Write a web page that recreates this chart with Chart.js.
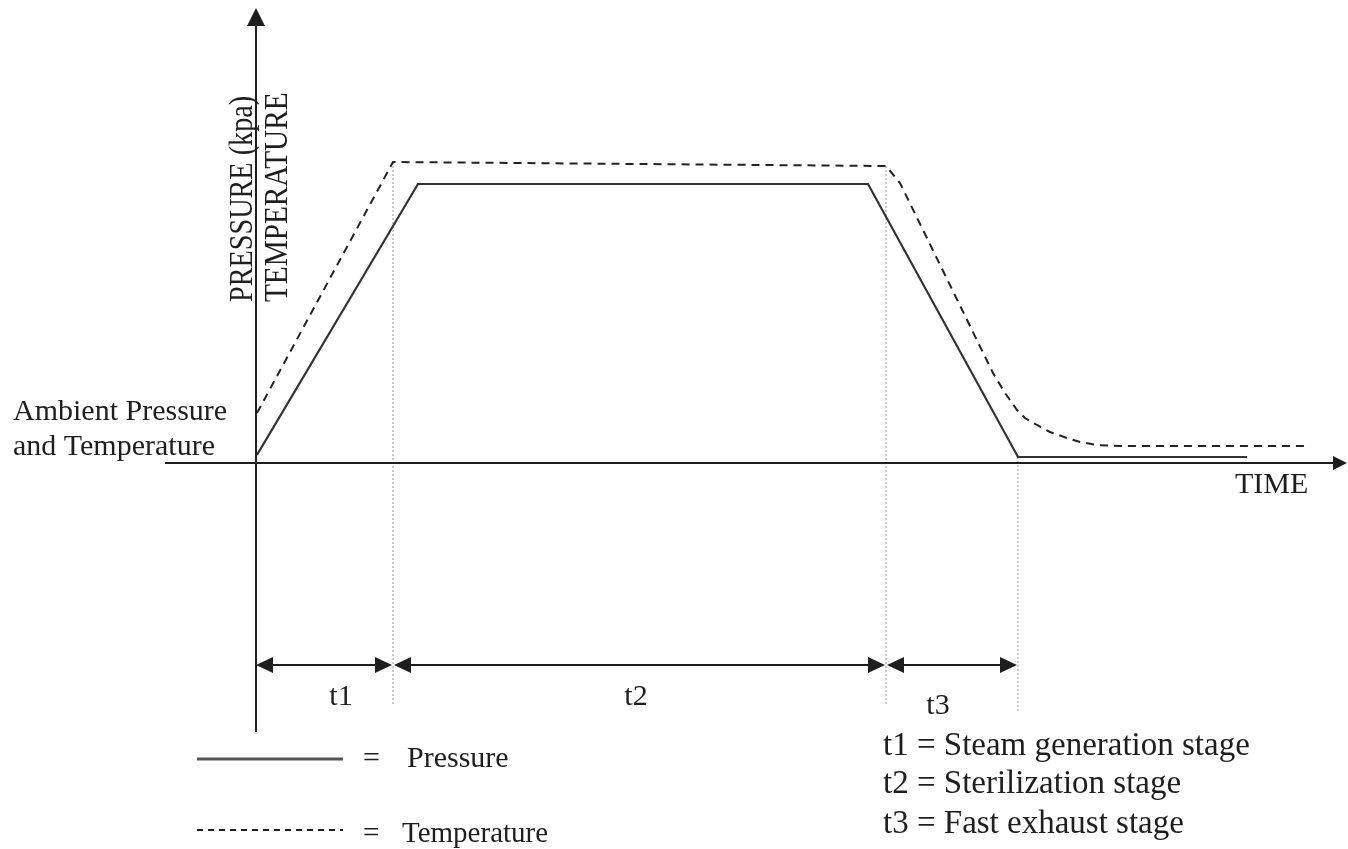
<!DOCTYPE html>
<html>
<head>
<meta charset="utf-8">
<script src="https://cdn.jsdelivr.net/npm/chart.js"></script>
<style>
  html, body { margin: 0; padding: 0; background: #fff; }
  #wrap { width: 1348px; height: 849px; position: relative; }
</style>
</head>
<body>
<div id="wrap"><canvas id="myChart"></canvas></div>
<script>
// dados (unidades arbitrarias: tempo / nivel)
var pressureTime = [0, 16.1, 61.1, 76.1, 99.0];
var pressureValue = [0.8, 27.9, 27.9, 0.6, 0.6];

var tempTime = [0, 13.6, 62.9, 64.3, 73.6, 74.8, 76.0, 76.8, 78.0, 79.3, 81.0, 82.3, 84.0, 86.3, 105.3];
var tempValue = [5.0, 30.1, 29.7, 28.0, 9.0, 7.0, 5.3, 4.5, 3.8, 3.1, 2.5, 2.1, 1.8, 1.7, 1.7];

// limites das etapas
var stageEdges = [0, 13.6, 62.9, 76.1];
var stageNames = ['t1', 't2', 't3'];
var stageText = [
    't1 = Steam generation stage',
    't2 = Sterilization stage',
    't3 = Fast exhaust stage'
];

function toPoints(xs, ys) {
    return xs.map(function (x, i) { return { x: x, y: ys[i] }; });
}

var INK = '#1e1e1e';
var SERIF = '"Liberation Serif", "DejaVu Serif", serif';

function tri(ctx, x, y, dir, len, half) {
    ctx.beginPath();
    ctx.moveTo(x, y);
    ctx.lineTo(x - dir * len, y - half);
    ctx.lineTo(x - dir * len, y + half);
    ctx.closePath();
    ctx.fill();
}

var diagram = {
    id: 'diagram',
    beforeDatasetsDraw: function (chart) {
        var ctx = chart.ctx, xs = chart.scales.x, ys = chart.scales.y;
        var X = function (v) { return xs.getPixelForValue(v); };
        var Y = function (v) { return ys.getPixelForValue(v); };
        ctx.save();
        // linhas pontilhadas das etapas
        ctx.strokeStyle = '#9a9a9a';
        ctx.lineWidth = 1;
        ctx.setLineDash([2, 2]);
        var tops = [Y(30.1), Y(29.7), Y(0.6)];
        var bottoms = [706, 706, 712];
        for (var i = 1; i < stageEdges.length; i++) {
            ctx.beginPath();
            ctx.moveTo(X(stageEdges[i]), tops[i - 1]);
            ctx.lineTo(X(stageEdges[i]), bottoms[i - 1]);
            ctx.stroke();
        }
        ctx.setLineDash([]);
        // eixos
        ctx.strokeStyle = INK;
        ctx.fillStyle = INK;
        ctx.lineWidth = 2;
        var x0 = X(0), y0 = Y(0);
        ctx.beginPath();
        ctx.moveTo(165, y0);
        ctx.lineTo(1336, y0);
        ctx.stroke();
        tri(ctx, 1347, y0, 1, 14, 7);
        ctx.beginPath();
        ctx.moveTo(x0 - 1, 732);
        ctx.lineTo(x0 - 1, 22);
        ctx.stroke();
        ctx.beginPath();
        ctx.moveTo(x0 - 1, 8);
        ctx.lineTo(x0 - 10, 26);
        ctx.lineTo(x0 + 8, 26);
        ctx.closePath();
        ctx.fill();
        ctx.restore();
    },
    afterDraw: function (chart) {
        var ctx = chart.ctx, xs = chart.scales.x;
        var X = function (v) { return xs.getPixelForValue(v); };
        ctx.save();
        ctx.fillStyle = INK;
        ctx.strokeStyle = INK;

        // setas das etapas
        var ay = 665;
        ctx.lineWidth = 2;
        for (var i = 0; i < stageNames.length; i++) {
            var a = X(stageEdges[i]) + 1, b = X(stageEdges[i + 1]) - 1;
            if (i == 0) a = X(0) - 1;
            ctx.beginPath();
            ctx.moveTo(a + 10, ay);
            ctx.lineTo(b - 10, ay);
            ctx.stroke();
            tri(ctx, a, ay, -1, 17, 8);
            tri(ctx, b, ay, 1, 17, 8);
        }
        var labX = [341, 636, 938];
        var labY = [705, 705, 714];
        ctx.font = '30px ' + SERIF;
        ctx.textAlign = 'center';
        ctx.textBaseline = 'alphabetic';
        for (var j = 0; j < stageNames.length; j++) {
            ctx.fillText(stageNames[j], labX[j], labY[j]);
        }

        // textos
        ctx.textAlign = 'left';
        ctx.font = '30px ' + SERIF;
        ctx.fillText('Ambient Pressure', 13, 420);
        ctx.fillText('and Temperature', 13, 455);
        ctx.fillText('TIME', 1235, 493);

        // titulos verticais
        ctx.font = '34px ' + SERIF;
        ctx.save();
        ctx.translate(252, 302);
        ctx.rotate(-Math.PI / 2);
        ctx.scale(0.83, 1);
        ctx.fillText('PRESSURE (kpa)', 0, 0);
        ctx.restore();
        ctx.save();
        ctx.translate(287, 302);
        ctx.rotate(-Math.PI / 2);
        ctx.scale(0.86, 1);
        ctx.fillText('TEMPERATURE', 0, 0);
        ctx.restore();

        // legenda
        ctx.lineWidth = 3;
        ctx.strokeStyle = '#555';
        ctx.beginPath();
        ctx.moveTo(197, 759);
        ctx.lineTo(343, 759);
        ctx.stroke();
        ctx.lineWidth = 2;
        ctx.strokeStyle = INK;
        ctx.setLineDash([6, 5]);
        ctx.beginPath();
        ctx.moveTo(197, 830);
        ctx.lineTo(343, 830);
        ctx.stroke();
        ctx.setLineDash([]);
        ctx.font = '30px ' + SERIF;
        ctx.fillText('=', 363, 767);
        ctx.fillText('Pressure', 407, 767);
        ctx.font = '29px ' + SERIF;
        ctx.fillText('=', 363, 842);
        ctx.fillText('Temperature', 402, 842);

        ctx.font = '33px ' + SERIF;
        var ly = [755, 793, 833];
        for (var k = 0; k < stageText.length; k++) {
            ctx.fillText(stageText[k], 883, ly[k]);
        }
        ctx.restore();
    }
};

var config = {
    type: 'line',
    data: {
        datasets: [{
            label: 'Pressure',
            data: toPoints(pressureTime, pressureValue),
            borderColor: '#333',
            borderWidth: 2.2,
            pointRadius: 0,
            tension: 0,
            fill: false
        }, {
            label: 'Temperature',
            data: toPoints(tempTime, tempValue),
            borderColor: '#222',
            borderWidth: 2,
            borderDash: [8, 6],
            pointRadius: 0,
            tension: 0,
            fill: false
        }]
    },
    options: {
        responsive: true,
        maintainAspectRatio: false,
        animation: false,
        layout: { padding: { left: 257, right: 1, top: 8, bottom: 386 } },
        plugins: {
            legend: { display: false },
            tooltip: { enabled: false },
            title: { display: false }
        },
        scales: {
            x: { type: 'linear', min: 0, max: 109, display: false },
            y: { type: 'linear', min: 0, max: 45.5, display: false }
        }
    },
    plugins: [diagram]
};

var myChart = new Chart(document.getElementById('myChart'), config);
</script>
</body>
</html>
